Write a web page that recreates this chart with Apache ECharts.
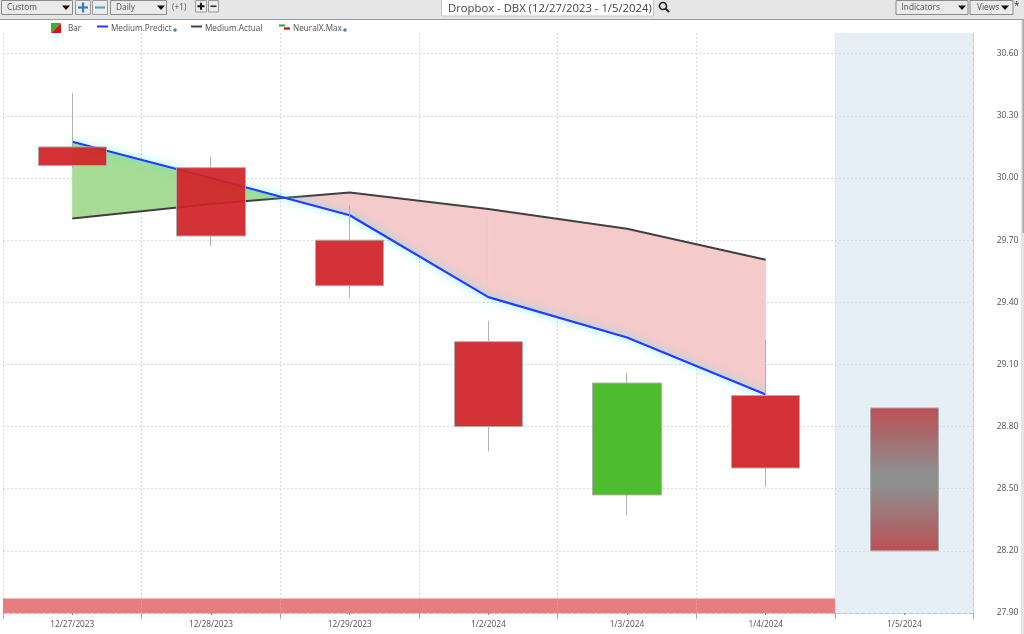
<!DOCTYPE html>
<html><head><meta charset="utf-8">
<style>html,body{margin:0;padding:0;background:#fff}#c{width:1024px;height:634px}</style>
<script src="https://cdn.jsdelivr.net/npm/echarts@6/dist/echarts.min.js"></script>
</head><body><div id="c"></div>
<script>
const categories = ['12/27/2023','12/28/2023','12/29/2023','1/2/2024','1/3/2024','1/4/2024','1/5/2024'];
const opens  = [30.15, 30.05, 29.70, 29.21, 28.47, 28.95, 28.89];
const closes = [30.06, 29.72, 29.48, 28.80, 29.01, 28.60, 28.20];
const lows   = [30.05, 29.67, 29.42, 28.68, 28.37, 28.51, 28.20];
const highs  = [30.41, 30.10, 29.87, 29.31, 29.06, 29.22, 28.89];
const predict = [30.175, 30.00, 29.82, 29.425, 29.23, 28.955, null];
const actual  = [29.805, 29.875, 29.93, 29.85, 29.755, 29.605, null];
const neuralMax = [27.97, 27.97, 27.97, 27.97, 27.97, 27.97, null];
const forecastBand = [null, null, null, null, null, null, 30.7];
const legendNames = ['Bar', 'Medium.Predict', 'Medium.Actual', 'NeuralX.Max'];
const titleText = 'Dropbox - DBX (12/27/2023 - 1/5/2024)';

const FONT = '"Open Sans","Noto Sans",sans-serif';
const TXT = '#505050';
const g = [];
function rect(x,y,w,h,fill,stroke,z){g.push({type:'rect',silent:true,z:z||10,shape:{x,y,width:w,height:h},style:{fill:fill||'transparent',stroke:stroke||null,lineWidth:stroke?1:0}});}
function text(x,y,t,size,color,align){g.push({type:'text',silent:true,z:12,x,y,style:{text:t,fill:color||TXT,font:(size||8.3)+'px '+FONT,textAlign:align||'left',textVerticalAlign:'middle'}});}
function tri(cx,cy,color){g.push({type:'polygon',silent:true,z:12,shape:{points:[[cx-4,cy-2],[cx+4,cy-2],[cx,cy+2.5]]},style:{fill:color||'#111'}});}
function seg(x1,y1,x2,y2,color,w){g.push({type:'line',silent:true,z:12,shape:{x1,y1,x2,y2},style:{stroke:color,lineWidth:w}});}
function dropdown(x,w,t,triX){rect(x+.5,.5,w,14,'#eaeaea','#8a8a8a');text(x+6,8,t,8.3,'#505050');tri(triX,7.5);}
function iconBtn(x,w,h,sign,color,arm,lw){
  rect(x+.5,.5,w,h,'#ececec','#9a9a9a');
  const cx=x+.5+w/2, cy=.5+h/2;
  seg(cx-arm,cy,cx+arm,cy,color,lw);
  if(sign==='+')seg(cx,cy-arm,cx,cy+arm,color,lw);
}

// toolbar
rect(0,0,1024,19,'#e6e6e6');
seg(0,19.5,1024,19.5,'#6aa5d8',1.2);
dropdown(1,71,'Custom',66);
iconBtn(75,15,14,'+','#2e80c0',5,2.2);
iconBtn(92,15,14,'-','#5f9fce',5,2.2);
dropdown(110,56,'Daily',161);
text(172,8,'(+1)',8.3,'#505050');
iconBtn(195,11,11.5,'+','#111',3.5,2);
iconBtn(208,10,11.5,'-','#333',3,1.6);
rect(441.5,-1,212,17,'#fff','#c4c4c4');
text(448,8.5,titleText,11.3,'#444');
g.push({type:'circle',silent:true,z:12,shape:{cx:663,cy:6,r:3.5},style:{fill:'transparent',stroke:'#222',lineWidth:1.6}});
seg(665.5,8.5,669,12,'#222',2);
dropdown(895.5,72,'Indicators',962);
rect(970,.5,43,14,'#eaeaea','#8a8a8a');
text(977,8,'Views',8.3,'#505050');
tri(1005,7.5);
text(1014,6,'*',10,'#333');

// legend row
g.push({type:'polygon',silent:true,z:12,shape:{points:[[51,23],[61,23],[51,33]]},style:{fill:'#3fae2a'}});
g.push({type:'polygon',silent:true,z:12,shape:{points:[[61,23],[61,33],[51,33]]},style:{fill:'#d01818'}});
text(68,28.5,legendNames[0],8.2);
seg(97,26.5,108,26.5,'#1f3dff',2);
text(111,28.5,legendNames[1],8.2);
g.push({type:'circle',silent:true,z:12,shape:{cx:175,cy:30,r:1.8},style:{fill:'#3f8ca8'}});
seg(191,26.5,202,26.5,'#444',2);
text(205,28.5,legendNames[2],8.2);
seg(279,25.5,285,25.5,'#2f9e2a',2);
seg(284,28.5,290,28.5,'#c81818',2.4);
text(293,28.5,legendNames[3],8.2);
g.push({type:'circle',silent:true,z:12,shape:{cx:345,cy:30,r:1.8},style:{fill:'#3f8ca8'}});

// right edge strip
rect(1021,20,3,614,'#e4e4e4');
rect(1022.5,20,1.5,213,'#a8a8a8');

function renderFill(params, api){
  const i = params.dataIndex;
  if (predict[i+1]==null) return null;
  const p0=api.coord([i,predict[i]]), p1=api.coord([i+1,predict[i+1]]);
  const a0=api.coord([i,actual[i]]),  a1=api.coord([i+1,actual[i+1]]);
  const d0=predict[i]-actual[i], d1=predict[i+1]-actual[i+1];
  const GREEN='#a6dc95', PINK='#f5caca';
  const poly=(pts,fill)=>({type:'polygon',shape:{points:pts},style:{fill,stroke:fill,lineWidth:0.6}});
  if (d0*d1>=0) return poly([p0,p1,a1,a0], d0>0?GREEN:PINK);
  const t=d0/(d0-d1);
  const c=[p0[0]+(p1[0]-p0[0])*t, p0[1]+(p1[1]-p0[1])*t];
  return {type:'group',children:[poly([p0,c,a0], d0>0?GREEN:PINK), poly([c,p1,a1], d1>0?GREEN:PINK)]};
}

const candleData = categories.map((c,i)=>{
  const v=[opens[i],closes[i],lows[i],highs[i]];
  if (i===categories.length-1) return {value:v,itemStyle:{opacity:1,color0:{type:'linear',x:0,y:0,x2:0,y2:1,colorStops:[{offset:0,color:'#bb4f54'},{offset:.45,color:'#8f8f8f'},{offset:.55,color:'#8f8f8f'},{offset:1,color:'#bb4f54'}]}}};
  return v;
});

const chart = echarts.init(document.getElementById('c'),null,{renderer:'canvas'});
chart.setOption({
  animation:false,
  backgroundColor:'#fff',
  textStyle:{fontFamily:FONT},
  grid:{left:3,right:50.3,top:33,bottom:21},
  xAxis:[{
    type:'category',data:categories,position:'bottom',
    axisLine:{show:true,lineStyle:{color:'#a9c8e2',type:'dashed',width:1}},
    axisTick:{show:true,length:6,lineStyle:{color:'#aaa'}},
    axisLabel:{color:TXT,fontSize:8.3,margin:8,fontFamily:FONT,interval:0},
    splitLine:{show:true,lineStyle:{color:'#d9d9d9',type:[2,2],width:1}}
  },{
    type:'category',data:categories,position:'bottom',
    axisLine:{show:false},axisLabel:{show:false},splitLine:{show:false},
    axisTick:{show:true,alignWithLabel:true,length:2,lineStyle:{color:'#888'}}
  }],
  yAxis:{
    type:'value',min:27.9,max:30.7,interval:0.3,position:'right',scale:true,
    axisLine:{show:true,lineStyle:{color:'#9cc3e0',type:'dashed',width:1}},
    axisTick:{show:false},
    axisLabel:{color:TXT,fontSize:8.5,margin:23,padding:[3,0,0,0],fontFamily:FONT,showMaxLabel:false,formatter:v=>v.toFixed(2)},
    splitLine:{show:true,showMaxLine:false,showMinLine:false,lineStyle:{color:'#d9d9d9',type:[2,2],width:1}}
  },
  series:[
    {name:'Forecast',type:'bar',data:forecastBand,barWidth:'100%',barGap:'-100%',silent:true,z:1,itemStyle:{color:'rgba(212,226,238,0.55)'}},
    {name:legendNames[3],type:'bar',data:neuralMax,barWidth:'100%',barGap:'-100%',silent:true,z:3,itemStyle:{color:'rgba(226,104,106,0.86)'}},
    {name:'Spread',type:'custom',renderItem:renderFill,data:predict.map((v,i)=>[i,v]),encode:{x:0,y:1},silent:true,z:2},
    {name:legendNames[2],type:'line',data:actual,showSymbol:false,silent:true,z:4,lineStyle:{color:'#404040',width:2}},
    {name:legendNames[1],type:'line',data:predict,showSymbol:false,silent:true,z:5,lineStyle:{color:'#1f3dff',width:2.2,shadowColor:'#40e8ff',shadowBlur:8}},
    {name:legendNames[0],type:'candlestick',data:candleData,barWidth:'49.5%',silent:true,z:6,
      itemStyle:{color:'#42b61e',color0:'#d02428',borderColor:'#acacac',borderColor0:'#acacac',borderWidth:1,opacity:0.93}}
  ],
  graphic:{elements:g}
});
</script></body></html>
